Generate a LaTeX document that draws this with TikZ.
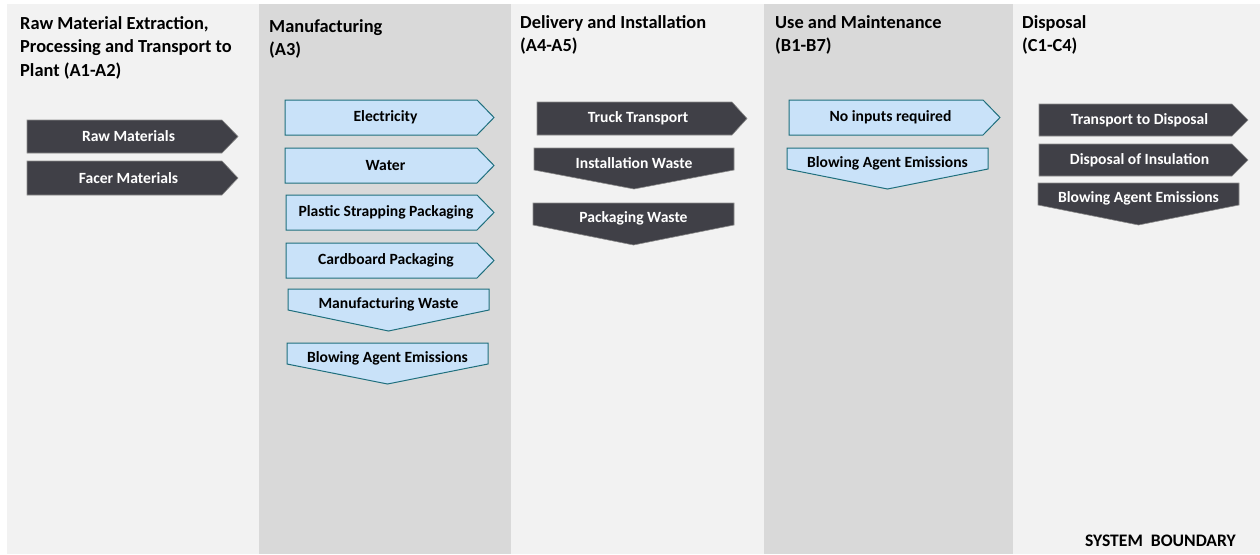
\documentclass[tikz,border=0pt]{standalone}
\usepackage{fontspec}
\setmainfont{Carlito}
\definecolor{collight}{HTML}{F2F2F2}
\definecolor{coldark}{HTML}{D9D9D9}
\definecolor{darkbox}{HTML}{404047}
\definecolor{darkedge}{HTML}{8C8C8C}
\definecolor{bluebox}{HTML}{C9E2F9}
\definecolor{blueedge}{HTML}{1F6F7D}
\tikzset{
  colA/.style={fill=collight,draw=none},
  colB/.style={fill=coldark,draw=none},
  titletext/.style={anchor=base west,inner sep=0pt,font=\bfseries\fontsize{18.4}{23.5}\selectfont,text=black},
  darkshape/.style={fill=darkbox,draw=darkedge,line width=0.6pt},
  blueshape/.style={fill=bluebox,draw=blueedge,line width=1pt},
  darklabel/.style={inner sep=0pt,font=\bfseries\fontsize{15.6}{17}\selectfont,text=white},
  bluelabel/.style={inner sep=0pt,font=\bfseries\fontsize{15.6}{17}\selectfont,text=black},
}
\newcommand{\TitleLines}[1]{\begin{tabular}[t]{@{}l@{}}#1\end{tabular}}
% right-pointing pentagon: style prefix, name, x1, y1, xr, x2, y2, text
\newcommand{\RArr}[8]{%
  \draw[#1shape] (#3,#4) -- (#5,#4) -- (#6,{(#4+#7)/2}) -- (#5,#7) -- (#3,#7) -- cycle;
  \node[#1label] (#2) at ({(#3+#6)/2-4},{(#4+#7)/2}) {#8};
}
% down-pointing chevron: style prefix, name, x1, ytop, x2, yside, ytip, text
\newcommand{\DArr}[8]{%
  \draw[#1shape] (#3,#4) -- (#5,#4) -- (#5,#6) -- ({(#3+#5)/2},#7) -- (#3,#6) -- cycle;
  \node[#1label] (#2) at ({(#3+#5)/2},{#4+15}) {#8};
}
\begin{document}
\begin{tikzpicture}[x=1pt,y=-1pt]
\useasboundingbox (0,0) rectangle (1260,554);
\fill[white] (0,0) rectangle (1260,554);
% columns
\path[colA] (7,4) rectangle (259,554);
\path[colB] (259,4) rectangle (511,554);
\path[colA] (511,4) rectangle (764,554);
\path[colB] (764,4) rectangle (1013,554);
\path[colA] (1013,4) rectangle (1260,554);
% titles
\node[titletext] (t1) at (20,29) {\TitleLines{Raw Material Extraction,\\Processing and Transport to\\Plant (A1-A2)}};
\node[titletext] (t2) at (269,32) {\TitleLines{Manufacturing\\(A3)}};
\node[titletext] (t3) at (520,28) {\TitleLines{Delivery and Installation\\(A4-A5)}};
\node[titletext] (t4) at (775,28) {\TitleLines{Use and Maintenance\\(B1-B7)}};
\node[titletext] (t5) at (1022,28) {\TitleLines{Disposal\\(C1-C4)}};
% column 1
\RArr{dark}{raw}{27}{120}{222}{238}{153}{Raw Materials}
\RArr{dark}{facer}{27}{161}{222}{238}{195}{Facer Materials}
% column 2
\RArr{blue}{elec}{285}{100}{477}{494}{135}{Electricity}
\RArr{blue}{water}{285}{148}{477}{494}{183}{Water}
\RArr{blue}{plastic}{286}{195}{477}{494}{230}{Plastic Strapping Packaging}
\RArr{blue}{card}{286}{243}{477}{494}{278}{Cardboard Packaging}
\DArr{blue}{mfgw}{288}{289}{489}{310}{331}{Manufacturing Waste}
\DArr{blue}{bae3}{287}{343}{488}{364}{384}{Blowing Agent Emissions}
% column 3
\RArr{dark}{truck}{537}{102}{732}{747}{135}{Truck Transport}
\DArr{dark}{instw}{534}{148}{734}{170}{189}{Installation Waste}
\DArr{dark}{packw}{533}{203}{734}{225}{245}{Packaging Waste}
% column 4
\RArr{blue}{noin}{789}{100}{983}{1000}{135}{No inputs required}
\DArr{blue}{baeb}{787}{148}{988}{169}{189}{Blowing Agent Emissions}
% column 5
\RArr{dark}{trdisp}{1039}{104}{1232}{1248}{136}{Transport to Disposal}
\RArr{dark}{dispins}{1039}{144}{1232}{1248}{176}{Disposal of Insulation}
\DArr{dark}{baec}{1038}{183}{1239}{205}{225}{Blowing Agent Emissions}
% system boundary
\node[anchor=base east,inner sep=0pt,font=\bfseries\fontsize{17.6}{19}\selectfont] (sb) at (1236,546) {SYSTEM\hspace{8pt}BOUNDARY};
\end{tikzpicture}
\end{document}
